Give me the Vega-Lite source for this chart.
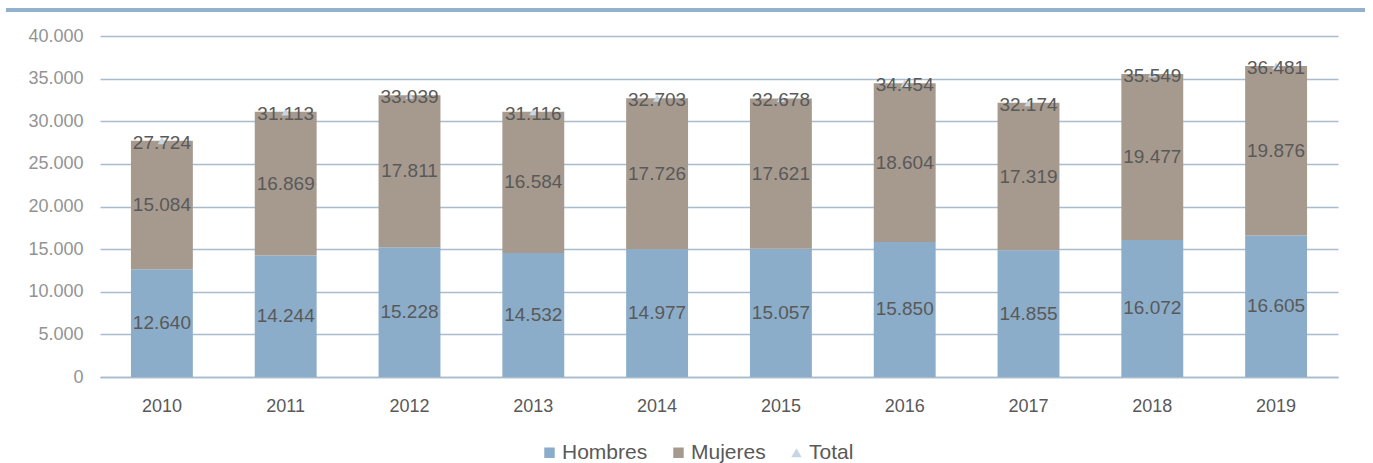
{
  "$schema": "https://vega.github.io/schema/vega-lite/v6.json",
  "padding": {"left": 6, "top": 8, "right": 8, "bottom": 4},
  "background": "white",
  "config": {
    "locale": {"number": {"decimal": ",", "thousands": ".", "grouping": [3], "currency": ["", " €"]}},
    "view": {"stroke": null},
    "font": "Liberation Sans"
  },
  "datasets": {
    "main": [
      {"year": "2010", "serie": "Hombres", "value": 12640},
      {"year": "2010", "serie": "Mujeres", "value": 15084},
      {"year": "2010", "serie": "Total", "value": 27724},
      {"year": "2011", "serie": "Hombres", "value": 14244},
      {"year": "2011", "serie": "Mujeres", "value": 16869},
      {"year": "2011", "serie": "Total", "value": 31113},
      {"year": "2012", "serie": "Hombres", "value": 15228},
      {"year": "2012", "serie": "Mujeres", "value": 17811},
      {"year": "2012", "serie": "Total", "value": 33039},
      {"year": "2013", "serie": "Hombres", "value": 14532},
      {"year": "2013", "serie": "Mujeres", "value": 16584},
      {"year": "2013", "serie": "Total", "value": 31116},
      {"year": "2014", "serie": "Hombres", "value": 14977},
      {"year": "2014", "serie": "Mujeres", "value": 17726},
      {"year": "2014", "serie": "Total", "value": 32703},
      {"year": "2015", "serie": "Hombres", "value": 15057},
      {"year": "2015", "serie": "Mujeres", "value": 17621},
      {"year": "2015", "serie": "Total", "value": 32678},
      {"year": "2016", "serie": "Hombres", "value": 15850},
      {"year": "2016", "serie": "Mujeres", "value": 18604},
      {"year": "2016", "serie": "Total", "value": 34454},
      {"year": "2017", "serie": "Hombres", "value": 14855},
      {"year": "2017", "serie": "Mujeres", "value": 17319},
      {"year": "2017", "serie": "Total", "value": 32174},
      {"year": "2018", "serie": "Hombres", "value": 16072},
      {"year": "2018", "serie": "Mujeres", "value": 19477},
      {"year": "2018", "serie": "Total", "value": 35549},
      {"year": "2019", "serie": "Hombres", "value": 16605},
      {"year": "2019", "serie": "Mujeres", "value": 19876},
      {"year": "2019", "serie": "Total", "value": 36481}
    ]
  },
  "spacing": 15,
  "vconcat": [
    {
      "width": 1359,
      "height": 4,
      "view": {"fill": "#92b1cc", "stroke": null},
      "data": {"values": [{}]},
      "mark": {"type": "point", "opacity": 0, "size": 1},
      "encoding": {}
    },
    {
      "spacing": 0,
      "hconcat": [
        {
          "width": 21,
          "height": 341,
          "data": {"values": [{}]},
          "mark": {"type": "point", "opacity": 0, "size": 1},
          "encoding": {}
        },
        {
          "width": 1238,
          "height": 341,
          "data": {"name": "main"},
          "encoding": {
            "x": {
              "field": "year",
              "type": "ordinal",
              "scale": {"paddingInner": 0.5, "paddingOuter": 0.25},
              "axis": {
                "title": null,
                "labelAngle": 0,
                "ticks": false,
                "domain": true,
                "domainColor": "#a9bccd",
                "domainWidth": 1.5,
                "labelFontSize": 18,
                "labelColor": "#595959",
                "labelPadding": 20
              }
            }
          },
          "layer": [
            {
              "transform": [{"filter": "datum.serie !== 'Total'"}],
              "mark": {"type": "bar"},
              "encoding": {
                "y": {
                  "field": "value",
                  "type": "quantitative",
                  "stack": "zero",
                  "scale": {"domain": [0, 40000], "nice": false},
                  "axis": {
                    "title": null,
                    "ticks": false,
                    "domain": false,
                    "grid": true,
                    "gridColor": "#a9bccd",
                    "gridWidth": 1.5,
                    "tickCount": 8,
                    "format": ",d",
                    "labelFontSize": 18,
                    "labelColor": "#939393",
                    "labelPadding": 17
                  }
                },
                "order": {"field": "serie", "type": "nominal", "sort": "ascending"},
                "color": {
                  "field": "serie",
                  "type": "nominal",
                  "scale": {"domain": ["Hombres", "Mujeres", "Total"], "range": ["#8badc9", "#a69a8f", "#c5d6e6"]},
                  "legend": {
                    "title": null,
                    "orient": "none",
                    "legendX": 533,
                    "legendY": 434,
                    "direction": "horizontal",
                    "labelFontSize": 21,
                    "labelColor": "#595959",
                    "symbolType": "square",
                    "symbolSize": 110,
                    "symbolStrokeWidth": 0,
                    "labelOffset": 2,
                    "columnPadding": 20,
                    "encode": {
                      "symbols": {
                        "update": {
                          "shape": {"signal": "datum.value === 'Total' ? 'triangle-up' : 'square'"}
                        }
                      }
                    }
                  }
                }
              }
            },
            {
              "transform": [
                {"filter": "datum.serie !== 'Total'"},
                {"stack": "value", "groupby": ["year"], "as": ["v0", "v1"], "sort": [{"field": "serie", "order": "ascending"}]},
                {"calculate": "(datum.v0 + datum.v1) / 2", "as": "mid"}
              ],
              "mark": {"type": "text", "fontSize": 19, "color": "#595959", "baseline": "middle"},
              "encoding": {
                "y": {"field": "mid", "type": "quantitative"},
                "text": {"field": "value", "type": "quantitative", "format": ",d"}
              }
            },
            {
              "transform": [{"filter": "datum.serie === 'Total'"}],
              "mark": {"type": "point", "shape": "triangle-up", "filled": true, "size": 70, "opacity": 1},
              "encoding": {
                "y": {"field": "value", "type": "quantitative"},
                "color": {"field": "serie", "type": "nominal"}
              }
            },
            {
              "transform": [{"filter": "datum.serie === 'Total'"}],
              "mark": {"type": "text", "fontSize": 19, "color": "#595959", "baseline": "middle", "dy": 2},
              "encoding": {
                "y": {"field": "value", "type": "quantitative"},
                "text": {"field": "value", "type": "quantitative", "format": ",d"}
              }
            }
          ]
        }
      ]
    }
  ]
}
